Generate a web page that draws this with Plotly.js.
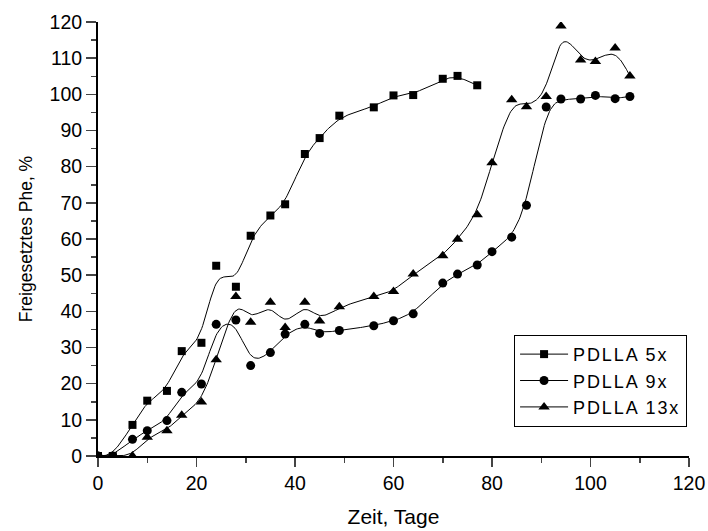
<!DOCTYPE html>
<html><head><meta charset="utf-8">
<script src="https://cdn.plot.ly/plotly-3.0.1.min.js"></script>
<style>html,body{margin:0;padding:0;background:#fff}#c{width:708px;height:531px}
text.legendtext{letter-spacing:1.9px}</style>
</head><body><div id="c"></div>
<script>
const days5 = [0,3,7,10,14,17,21,24,28,31,35,38,42,45,49,56,60,64,70,73,77];
const pdlla5 = [0,0,8.6,15.3,18.0,29.0,31.3,52.6,46.8,60.9,66.5,69.6,83.5,87.9,94.1,96.4,99.7,99.8,104.3,105.1,102.5];
const days = [0,3,7,10,14,17,21,24,28,31,35,38,42,45,49,56,60,64,70,73,77,80,84,87,91,94,98,101,105,108];
const pdlla9 = [0,0,4.6,7.0,9.8,17.6,19.9,36.4,37.6,25.0,28.6,33.7,36.4,33.9,34.7,36.0,37.4,39.3,47.8,50.3,52.8,56.5,60.5,69.3,96.5,98.7,98.7,99.7,98.8,99.4];
const pdlla13 = [0,0,0,5.2,7.0,11.3,14.9,26.6,44.1,37.0,42.5,35.5,42.5,37.3,41.3,44.1,45.5,50.3,55.4,59.9,66.7,81.1,98.5,96.6,99.4,118.9,109.5,109.1,112.8,105.1];
const names = ['PDLLA 5x','PDLLA 9x','PDLLA 13x'];
const symbols = ['square','circle','triangle-up'];
const sizes = [8,9,10];

// uniform cubic B-spline using the data points as control points (clamped ends)
function bspline(xs, ys, n) {
  const P = [];
  for (let i = 0; i < xs.length; i++) P.push([xs[i], ys[i]]);
  const Q = [P[0], P[0]].concat(P, [P[P.length-1], P[P.length-1]]);
  const ox = [], oy = [];
  for (let i = 0; i + 3 < Q.length; i++) {
    for (let k = 0; k <= n; k++) {
      if (k === n && i + 4 < Q.length) continue;
      const t = k / n, t2 = t*t, t3 = t2*t;
      const b0 = (1 - 3*t + 3*t2 - t3)/6, b1 = (4 - 6*t2 + 3*t3)/6,
            b2 = (1 + 3*t + 3*t2 - 3*t3)/6, b3 = t3/6;
      ox.push(b0*Q[i][0] + b1*Q[i+1][0] + b2*Q[i+2][0] + b3*Q[i+3][0]);
      oy.push(b0*Q[i][1] + b1*Q[i+1][1] + b2*Q[i+2][1] + b3*Q[i+3][1]);
    }
  }
  return [ox, oy];
}

const series = [[days5, pdlla5],[days, pdlla9],[days, pdlla13]];
const traces = [];
series.forEach((s, i) => {
  const c = bspline(s[0], s[1], 16);
  traces.push({x: c[0], y: c[1], mode: 'lines', line: {color: '#000', width: 1}, showlegend: false, hoverinfo: 'skip'});
  traces.push({x: s[0], y: s[1], mode: 'markers', marker: {symbol: symbols[i], size: sizes[i], color: '#000'}, showlegend: false, name: names[i]});
});
series.forEach((s, i) => {
  traces.push({x: [null], y: [null], mode: 'lines+markers', name: names[i],
    line: {color: '#000', width: 1}, marker: {symbol: symbols[i], size: sizes[i], color: '#000'}});
});

const fam = 'Arial, "Liberation Sans", sans-serif';
const tickfont = {family: fam, color: '#000', size: 19.5};
const layout = {
  width: 708, height: 531,
  margin: {l: 97.5, r: 19, t: 22, b: 75, pad: 0},
  paper_bgcolor: '#fff', plot_bgcolor: '#fff',
  font: {family: fam, color: '#000', size: 17},
  showlegend: true,
  xaxis: {
    range: [0, 120], dtick: 20, tick0: 0, ticks: 'outside', ticklen: 9, tickwidth: 1.5,
    showline: true, linewidth: 2, linecolor: '#000', showgrid: false, zeroline: false,
    minor: {dtick: 10, ticks: 'outside', ticklen: 5, tickwidth: 1.5, showgrid: false},
    title: {text: 'Zeit, Tage', font: {family: fam, color: '#000', size: 21}, standoff: 16}, tickfont: tickfont
  },
  yaxis: {
    range: [0, 120], dtick: 10, tick0: 0, ticks: 'outside', ticklen: 10, tickwidth: 1.5,
    showline: true, linewidth: 2, linecolor: '#000', showgrid: false, zeroline: false,
    minor: {dtick: 5, ticks: 'outside', ticklen: 5, tickwidth: 1.5, showgrid: false},
    title: {text: 'Freigesetztes Phe, %', font: {family: fam, color: '#000', size: 17.5}, standoff: 12}, tickfont: tickfont
  },
  legend: {
    x: 0.704, y: 0.279, xanchor: 'left', yanchor: 'top',
    bordercolor: '#000', borderwidth: 1, bgcolor: '#fff',
    font: {family: fam, size: 18, color: '#000'},
    itemwidth: 48, tracegroupgap: 0
  }
};
Plotly.newPlot('c', traces, layout, {displayModeBar: false, staticPlot: true});
</script></body></html>
